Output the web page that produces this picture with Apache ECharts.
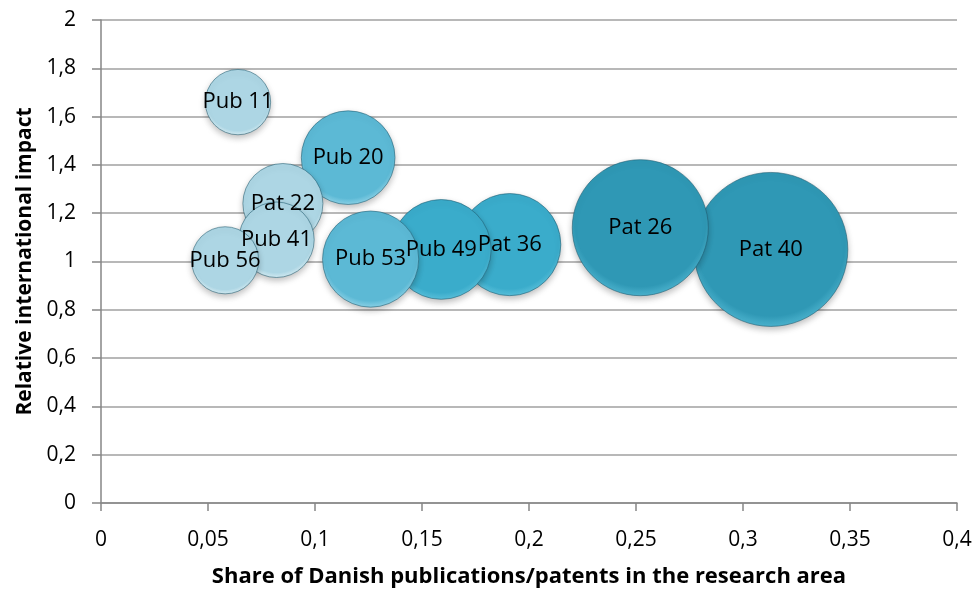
<!DOCTYPE html>
<html>
<head>
<meta charset="utf-8">
<script src="https://cdn.jsdelivr.net/npm/echarts@6/dist/echarts.min.js"></script>
<style>
html,body{margin:0;padding:0;background:#fff;}
#chart{width:978px;height:593px;}
</style>
</head>
<body>
<div id="chart"></div>
<script>
// Data (drawn in order: larger bubbles first, smaller on top)
var labels = ['Pat 40','Pat 26','Pat 36','Pub 49','Pub 53','Pub 20','Pat 22','Pub 41','Pub 56','Pub 11'];
var shareValues = [0.313,0.252,0.191,0.159,0.126,0.1155,0.085,0.082,0.058,0.064];
var impactValues = [1.05,1.14,1.07,1.05,1.01,1.43,1.24,1.09,1.005,1.66];
var bubbleSizes = [100,78,44,42,39,37,27,24,19,18];
var xTicks = ['0','0,05','0,1','0,15','0,2','0,25','0,3','0,35','0,4'];
var yTicks = ['0','0,2','0,4','0,6','0,8','1','1,2','1,4','1,6','1,8','2'];

var FONT = '"Open Sans"';
var maxDiam = 154;
var maxSize = Math.max.apply(null, bubbleSizes);

function fmt(v, ticks, step){
  var i = Math.round(v/step);
  return ticks[i] !== undefined ? ticks[i] : '';
}

function colorFor(size){
  var base, light, dark;
  if (size >= 60){ light='#4fb6d1'; base='#2f98b5'; dark='#237a93'; }
  else if (size >= 41){ light='#5ec3dd'; base='#3aaccb'; dark='#2a8aa6'; }
  else if (size >= 30){ light='#93d6ea'; base='#5cb9d5'; dark='#3e97b2'; }
  else { light='#dcf0f6'; base='#add6e4'; dark='#84b6c9'; }
  return new echarts.graphic.RadialGradient(0.5, 0.45, 0.6, [
    {offset:0, color: base},
    {offset:0.8, color: base},
    {offset:0.93, color: light},
    {offset:1, color: dark}
  ]);
}

var data = labels.map(function(n,i){
  return {name:n, value:[shareValues[i], impactValues[i], bubbleSizes[i]]};
});

var chart = echarts.init(document.getElementById('chart'), null, {renderer:'canvas'});
chart.setOption({
  animation:false,
  backgroundColor:'#ffffff',
  grid:{left:101, right:21, top:20, bottom:90, containLabel:false},
  xAxis:{
    type:'value', min:0, max:0.4, interval:0.05,
    name:'Share of Danish publications/patents in the research area',
    nameLocation:'middle', nameGap:63,
    nameTextStyle:{fontFamily:FONT, fontWeight:'bold', fontSize:22, color:'#000'},
    axisLine:{show:true, onZero:false, lineStyle:{color:'#868686', width:1.5}},
    axisTick:{show:true, length:8, inside:false, lineStyle:{color:'#868686', width:1.5}},
    axisLabel:{fontFamily:FONT, fontSize:21, color:'#000', margin:27,
      formatter:function(v){return fmt(v, xTicks, 0.05);}},
    splitLine:{show:false}
  },
  yAxis:{
    type:'value', min:0, max:2, interval:0.2,
    name:'Relative international impact',
    nameLocation:'middle', nameGap:64, nameRotate:90,
    nameTextStyle:{fontFamily:FONT, fontWeight:'bold', fontSize:21, color:'#000'},
    axisLine:{show:true, lineStyle:{color:'#868686', width:1.5}},
    axisTick:{show:true, length:9, lineStyle:{color:'#868686', width:1.5}},
    axisLabel:{fontFamily:FONT, fontSize:21, color:'#000', margin:25,
      formatter:function(v){return fmt(v, yTicks, 0.2);}},
    splitLine:{show:true, lineStyle:{color:'#a0a0a0', width:1.5}}
  },
  series:[{
    type:'scatter',
    data:data,
    symbol:'circle',
    symbolSize:function(val){ return maxDiam*Math.sqrt(val[2]/maxSize); },
    itemStyle:{
      color:function(p){ return colorFor(p.value[2]); },
      borderColor:'rgba(30,90,110,0.55)', borderWidth:1,
      shadowColor:'rgba(0,0,0,0.25)', shadowBlur:6, shadowOffsetY:3,
      opacity:1
    },
    label:{show:true, position:'inside', formatter:'{b}',
      fontFamily:FONT, fontSize:22, color:'#000'},
    emphasis:{disabled:true}
  }]
});
</script>
</body>
</html>
